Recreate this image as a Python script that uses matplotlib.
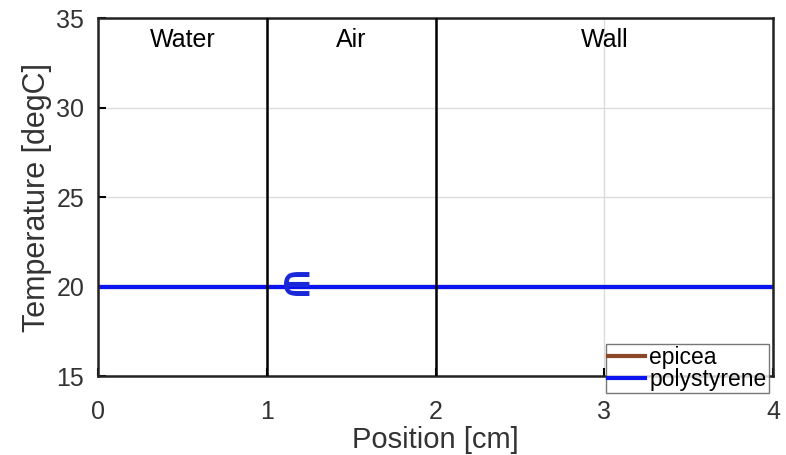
import matplotlib
matplotlib.use("Agg")
import matplotlib.pyplot as plt

plt.rcParams["font.family"] = ["Liberation Sans", "DejaVu Sans"]

# data
positions = [0, 4]
epicea_temp = [20, 20]
polystyrene_temp = [20, 20]
boundaries = [1, 2]
region_names = ["Water", "Air", "Wall"]
region_centers = [0.5, 1.5, 3.0]
marker_pos = 1.18
marker_temp = 20

fig = plt.figure(figsize=(7.86, 4.55), dpi=100)
ax = fig.add_axes([0.1247, 0.1736, 0.8588, 0.7868])

ax.plot(positions, epicea_temp, color="#8b4726", lw=3, label="epicea")
ax.plot(positions, polystyrene_temp, color="#0a14f0", lw=3, label="polystyrene")

for b in boundaries:
    ax.axvline(b, color="black", lw=1.8, zorder=3)

for name, xc in zip(region_names, region_centers):
    ax.text(xc, 33.75, name, ha="center", va="center", fontsize=18, color="black")

ax.text(marker_pos, marker_temp, "\u220a", color="#1a28d8", fontsize=34,
        fontweight="bold", ha="center", va="center", family="DejaVu Sans")

ax.set_xlim(0, 4)
ax.set_ylim(15, 35)
ax.set_xticks([0, 1, 2, 3, 4])
ax.set_yticks([15, 20, 25, 30, 35])
ax.grid(True, color="#dcdcdc", lw=1)
ax.set_axisbelow(True)
ax.tick_params(direction="in", length=6, width=1.5, labelsize=18,
               labelcolor="#333333", top=False, right=False)
ax.tick_params(axis="x", pad=17)
ax.tick_params(axis="y", pad=10)
for s in ax.spines.values():
    s.set_linewidth(1.8)
    s.set_color("#222222")

ax.set_xlabel("Position [cm]", fontsize=21, color="#333333", labelpad=2)
ax.set_ylabel("Temperature [degC]", fontsize=22, color="#333333", labelpad=3)

leg = ax.legend(loc="upper left", bbox_to_anchor=(0.752, 0.09), fontsize=16.5,
                frameon=True, fancybox=False, edgecolor="#555555",
                handlelength=1.6, handletextpad=0.2, labelspacing=-0.05,
                borderpad=0.1, borderaxespad=0)
leg.get_frame().set_linewidth(1)
leg.set_zorder(5)

fig.savefig("out.png", dpi=100)
